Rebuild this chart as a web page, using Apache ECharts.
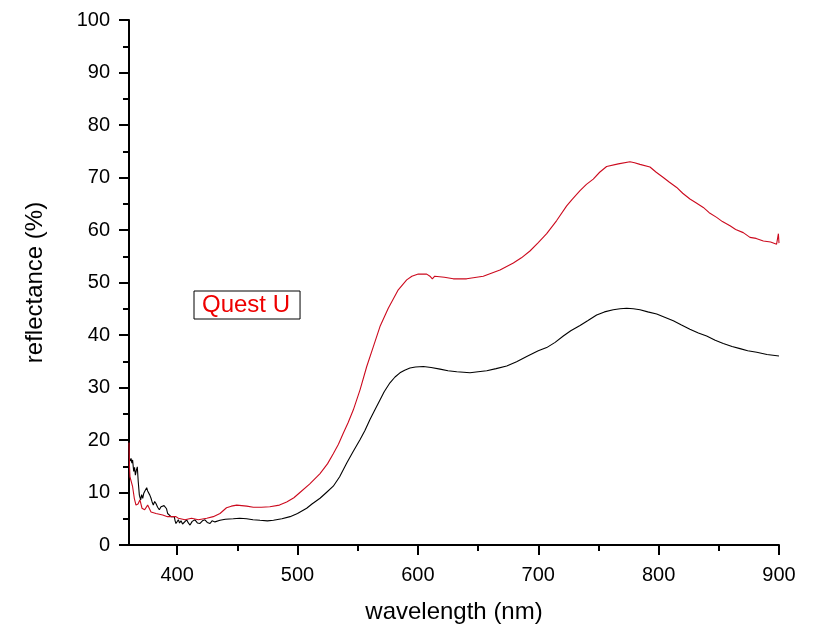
<!DOCTYPE html>
<html><head><meta charset="utf-8">
<script src="https://cdn.jsdelivr.net/npm/echarts@6/dist/echarts.min.js"></script>
<style>html,body{margin:0;padding:0;background:#fff}#c{width:828px;height:643px}</style>
</head><body><div id="c"></div>
<script>
const xTicks = [400, 500, 600, 700, 800, 900];
const xMinorTicks = [450, 550, 650, 750, 850];

const blackNm = [360,361,361.7,362.4,363,363.9,364.6,365.3,366.1,366.9,367.7,368.6,369.7,370.5,371.4,372.2,373,374,374.7,375.5,376.3,377.3,378.3,379.2,380.2,381.3,382.4,383.8,385.2,386.6,388,389.1,390.2,391.2,392.1,393.5,394.9,396.2,397.6,398.3,399,400,401,402,403.2,404.5,405.9,407.9,409.3,410.7,412.5,414.8,416.8,419,421,423.1,425,427.3,429,431.4,435.6,440,446.6,452,457.7,463,468.8,475,480,487,493.8,500,507.6,512,518.7,524,529.7,535,540.9,546,552,556,560.2,564,568.5,572,576.8,581,585.1,589,593.4,598,604.5,611,618.4,625,632.3,638,643.3,650,657.2,665,673.8,682,690.4,700,707,714,720.8,727,734.7,741,748.5,755,762.3,768,773.5,779,784.5,791,798.4,805,812.2,819,826,833,839.9,847,853.7,861,867.6,874,881.5,890,900];
const blackVal = [16.8,16.0,16.5,15.6,16.2,14.0,14.8,13.3,14.2,14.9,12.0,9.5,8.6,9.6,8.9,9.8,10.2,10.0,10.9,10.3,10.5,9.5,8.9,8.2,7.6,8.3,7.9,7.2,6.7,7.3,7.1,7.5,7.8,6.9,6.0,5.8,5.4,5.7,5.4,4.6,4.1,4.3,4.8,4.2,4.6,4.0,4.1,4.8,4.2,3.8,4.5,4.8,4.2,4.1,4.6,4.8,4.3,4.1,4.6,4.4,4.7,4.9,5.0,5.1,5.0,4.8,4.7,4.6,4.7,5.0,5.4,6.0,7.0,7.8,8.9,10.0,11.2,13.0,15.6,17.7,20.1,21.8,23.9,25.6,27.6,29.2,30.9,32.0,32.8,33.3,33.7,33.9,34.0,33.8,33.5,33.2,33.0,32.9,32.8,33.0,33.2,33.6,34.1,34.9,35.9,37.0,37.6,38.6,39.8,40.8,41.8,42.7,43.8,44.4,44.8,45.0,45.1,45.0,44.8,44.4,44.0,43.4,42.7,41.9,41.1,40.4,39.8,39.0,38.4,37.8,37.4,37.0,36.7,36.3,36.0];

const redNm = [360,360.4,360.8,363,364.4,365.8,367.5,369.1,370.8,373,375.5,378.3,382.4,388,392,399,401,406.5,412,417.6,424.6,430,435.6,441,445,449.5,457.8,463.3,470,477,485,491,497,502,510,518.7,525,529.7,534,538,542,546.3,552,557.5,563,568.5,575.4,583.7,590.7,595,600.3,607.3,610,612,614,615.6,622,629.4,640.5,654.3,668.2,679.3,686,693.1,700,707,715.3,723.6,728,734.7,740,745.7,751,756.8,766.5,776.2,780,784.5,792.8,798,803.9,809,815,820,826,831,837.1,842,848.2,853,859.3,864,870.3,875.9,881,887,893,898,899,899.5,900];
const redVal = [19.5,15.0,13.0,11.1,8.9,7.6,7.8,8.6,7.0,6.7,7.6,6.3,6.0,5.7,5.4,5.4,5.1,4.8,5.1,4.8,5.1,5.4,6.0,7.1,7.4,7.6,7.4,7.2,7.2,7.3,7.6,8.2,9.0,10.0,11.6,13.6,15.5,17.4,19.2,21.3,23.3,25.7,29.6,34.0,37.8,41.6,45.1,48.6,50.5,51.2,51.6,51.6,51.2,50.7,51.2,51.3,51.0,50.7,50.7,51.2,52.4,53.7,54.7,56.0,57.6,59.3,61.8,64.6,65.8,67.5,68.7,69.7,71.0,72.1,72.6,73.0,72.8,72.5,72.0,71.0,70.0,69.1,68.1,67.0,65.9,65.2,64.3,63.3,62.4,61.6,60.8,60.1,59.5,58.6,58.4,57.9,57.7,57.3,57.0,59.3,57.5];

const font = 'Arial, "Liberation Sans", sans-serif';
const zip = (a, b) => a.map((v, i) => [v, b[i]]);

const chart = echarts.init(document.getElementById('c'));
chart.setOption({
  animation: false,
  backgroundColor: '#fff',
  grid: { left: 129, right: 49, top: 20, bottom: 98 },
  xAxis: [{
    type: 'value', min: 360, max: 900,
    name: 'wavelength (nm)', nameLocation: 'middle', nameGap: 55,
    nameTextStyle: { fontSize: 24, color: '#000', fontFamily: font },
    axisLine: { show: true, onZero: false, lineStyle: { color: '#000', width: 2 } },
    axisTick: { show: true, customValues: xTicks, length: 10, lineStyle: { color: '#000', width: 2 } },
    axisLabel: { show: true, customValues: xTicks, margin: 20, fontSize: 20, color: '#000', fontFamily: font },
    splitLine: { show: false }
  }, {
    type: 'value', min: 360, max: 900, position: 'bottom',
    axisLine: { show: false },
    axisTick: { show: true, customValues: xMinorTicks, length: 6, lineStyle: { color: '#000', width: 2 } },
    axisLabel: { show: false },
    splitLine: { show: false }
  }],
  yAxis: {
    type: 'value', min: 0, max: 100, interval: 10,
    name: 'reflectance (%)', nameLocation: 'middle', nameGap: 82, nameRotate: 90,
    nameTextStyle: { fontSize: 24, color: '#000', fontFamily: font },
    axisLine: { show: true, onZero: false, lineStyle: { color: '#000', width: 2 } },
    axisTick: { show: true, length: 10, lineStyle: { color: '#000', width: 2 } },
    minorTick: { show: true, splitNumber: 2, length: 6, lineStyle: { color: '#000', width: 2 } },
    axisLabel: { margin: 19, fontSize: 20, color: '#000', fontFamily: font },
    splitLine: { show: false },
    minorSplitLine: { show: false }
  },
  legend: {
    data: [{ name: 'Quest U', icon: 'none' }],
    left: 194, top: 291, orient: 'horizontal',
    itemWidth: 0, itemHeight: 0, itemGap: 0,
    padding: [2, 10, 2, 3],
    borderColor: '#000', borderWidth: 1,
    selectedMode: false,
    textStyle: { color: '#ee0000', fontSize: 24, fontFamily: font }
  },
  series: [{
    name: 'black', type: 'line', xAxisIndex: 0, showSymbol: false, symbol: 'none',
    data: zip(blackNm, blackVal),
    lineStyle: { color: '#000', width: 1.1 }
  }, {
    name: 'Quest U', type: 'line', xAxisIndex: 0, showSymbol: false, symbol: 'none',
    data: zip(redNm, redVal),
    itemStyle: { color: '#cc0a1e' },
    lineStyle: { color: '#cc0a1e', width: 1.1 }
  }]
});
</script>
</body></html>
